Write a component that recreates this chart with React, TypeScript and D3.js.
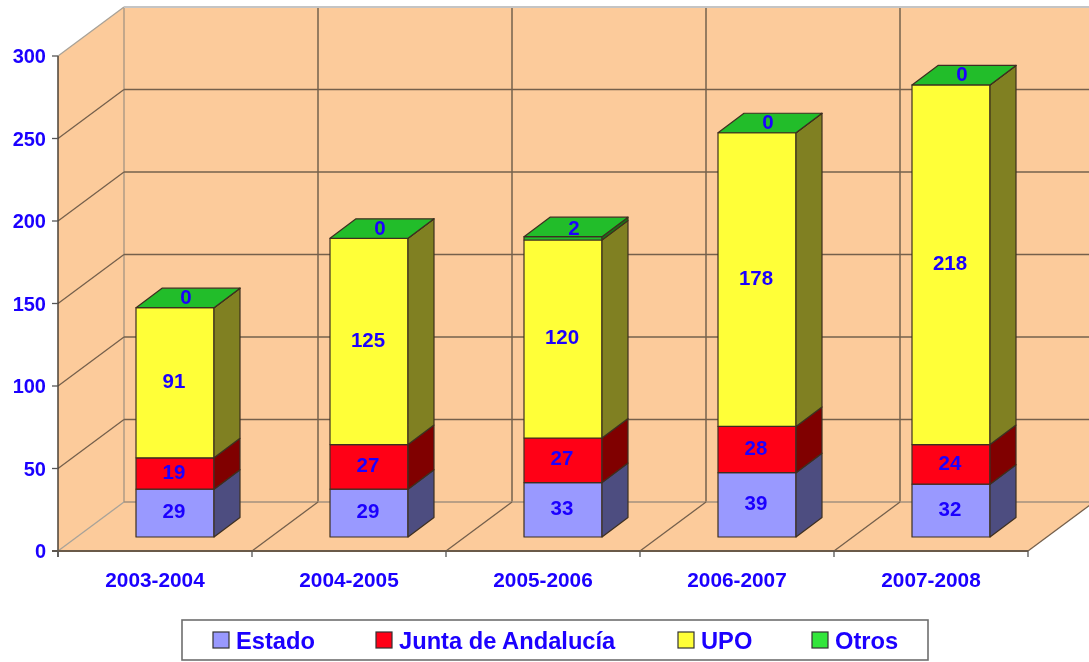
import React from "react";
import * as d3 from "d3";

const categories = ["2003-2004", "2004-2005", "2005-2006", "2006-2007", "2007-2008"];
const estado = [29, 29, 33, 39, 32];
const junta = [19, 27, 27, 28, 24];
const upo = [91, 125, 120, 178, 218];
const otros = [0, 0, 2, 0, 0];
const yTicks = [0, 50, 100, 150, 200, 250, 300];
const seriesNames = ["Estado", "Junta de Andalucía", "UPO", "Otros"];
const seriesValues = [estado, junta, upo, otros];
const seriesFill = ["#9999ff", "#ff0019", "#ffff38", "#24bd2a"];
const seriesSide = ["#4d4d80", "#800000", "#808020", "#157a18"];
const legendFill = ["#9999ff", "#ff0019", "#ffff38", "#33e63a"];
const legendX = [213, 376, 678, 812];

const BLUE = "#1a00ff";
const FONT = "'Liberation Sans', Arial, sans-serif";
const DX = 66, DY = -49; // chart depth
const BDX = 26, BDY = -19.5; // bar depth
const x = d3.scaleBand().domain(categories).range([58, 1028]);
const y = d3.scaleLinear().domain([0, 300]).range([551, 56]);
const yBar = d3.scaleLinear().domain([0, 300]).range([537, 42]);
const BAR_W = 78, BAR_OFF = 78;
const line = d3.line();
const poly = (pts: [number, number][]) => line(pts) + "Z";
const GRID = "#75604c";

export default function App() {
  const gridEdges = [...categories.map((c) => x(c)!), 1028];
  return (
    <svg width={1089} height={662} viewBox="0 0 1089 662"
      style={{ position: "absolute", left: 0, top: 0, background: "#fff", fontFamily: FONT }}>
      <defs>
        <filter id="soft" x="-2%" y="-2%" width="104%" height="104%">
          <feGaussianBlur stdDeviation="0.7" />
        </filter>
      </defs>
      <g filter="url(#soft)">
        {/* walls */}
        <rect x={58 + DX} y={y(300) + DY} width={1089 - 58 - DX} height={y(0) - y(300)} fill="#fccb9b" />
        <path d={poly([[58, y(300)], [58 + DX, y(300) + DY], [58 + DX, y(0) + DY], [58, y(0)]])} fill="#fccb9b" />
        <path d={poly([[58, y(0)], [58 + DX, y(0) + DY], [1094, y(0) + DY], [1028, y(0)]])} fill="#fccb9b" />

        {/* back wall vertical grid */}
        {gridEdges.map((g, i) => (
          <line key={i} x1={g + DX} x2={g + DX} y1={y(300) + DY} y2={y(0) + DY}
            stroke={i === 0 ? "#9c8f80" : GRID} strokeWidth={i === 0 ? 1.2 : 1.5} />
        ))}
        {/* horizontal grid + side wall */}
        {yTicks.map((t) => {
          const muted = t === 0 || t === 300;
          return (
            <g key={t}>
              <line x1={58} x2={58 + DX} y1={y(t)} y2={y(t) + DY}
                stroke={muted ? "#a8a298" : GRID} strokeWidth={1.3} />
              <line x1={58 + DX} x2={1089} y1={y(t) + DY} y2={y(t) + DY}
                stroke={t === 300 ? "#c4c4c4" : t === 0 ? "#a3917e" : GRID} strokeWidth={t === 300 ? 2 : 1.4} />
            </g>
          );
        })}
        {/* floor lines */}
        {gridEdges.slice(1).map((g, i) => (
          <line key={i} x1={g} x2={g + DX} y1={y(0)} y2={y(0) + DY} stroke={GRID} strokeWidth={1.3} />
        ))}

        {/* axes */}
        <line x1={58} x2={58} y1={y(300)} y2={y(0) + 6} stroke="#4a4036" strokeWidth={1.5} />
        <line x1={52} x2={1028} y1={y(0)} y2={y(0)} stroke="#6b5a48" strokeWidth={1.8} />
        {yTicks.map((t) => (
          <line key={t} x1={52} x2={58} y1={y(t)} y2={y(t)} stroke="#555" strokeWidth={1.3} />
        ))}
        {gridEdges.map((g, i) => (
          <line key={i} x1={g} x2={g} y1={y(0)} y2={y(0) + 6} stroke="#555" strokeWidth={1.3} />
        ))}

        {/* bars */}
        {categories.map((c, ci) => {
          const left = x(c)! + BAR_OFF;
          const right = left + BAR_W;
          let acc = 0;
          return (
            <g key={c} stroke="#3d2f20" strokeWidth={1.2} strokeLinejoin="round">
              {seriesValues.map((vals, si) => {
                const v0 = acc;
                const v1 = (acc += vals[ci]);
                const y0 = yBar(v0), y1 = yBar(v1);
                return (
                  <g key={si}>
                    <rect x={left} y={y1} width={BAR_W} height={y0 - y1} fill={seriesFill[si]} />
                    <path d={poly([[right, y0], [right + BDX, y0 + BDY], [right + BDX, y1 + BDY], [right, y1]])}
                      fill={seriesSide[si]} />
                    {si === seriesValues.length - 1 && (
                      <path d={poly([[left, y1], [left + BDX, y1 + BDY], [right + BDX, y1 + BDY], [right, y1]])}
                        fill={seriesFill[si]} />
                    )}
                  </g>
                );
              })}
            </g>
          );
        })}

        {/* value labels */}
        {categories.map((c, ci) => {
          const cx = x(c)! + BAR_OFF + BAR_W / 2;
          let acc = 0;
          return seriesValues.map((vals, si) => {
            const v0 = acc;
            const v1 = (acc += vals[ci]);
            const last = si === seriesValues.length - 1;
            return (
              <text key={c + si} x={last ? cx + 11 : cx - 1}
                y={(yBar(v0) + yBar(v1)) / 2 + (last ? -11 : -2)} dy="0.35em" textAnchor="middle"
                fontSize={20.5} fontWeight={700} fill={BLUE}>{vals[ci]}</text>
            );
          });
        })}

        {/* tick labels */}
        {yTicks.map((t) => (
          <text key={t} x={46} y={y(t)} dy="0.35em" textAnchor="end" fontSize={20} fontWeight={700} fill={BLUE}>{t}</text>
        ))}
        {categories.map((c) => (
          <text key={c} x={x(c)! + x.bandwidth() / 2} y={580} dy="0.35em" textAnchor="middle"
            fontSize={20.8} fontWeight={700} fill={BLUE}>{c}</text>
        ))}

        {/* legend */}
        <rect x={182} y={620} width={746} height={40} fill="#fff" stroke="#6e6e6e" strokeWidth={1.6} />
        {seriesNames.map((n, i) => (
          <g key={n}>
            <rect x={legendX[i]} y={632} width={16} height={16} fill={legendFill[i]} stroke="#333" strokeWidth={1.2} />
            <text x={legendX[i] + 23} y={640} dy="0.36em" fontSize={23.7} fontWeight={700} fill={BLUE}>{n}</text>
          </g>
        ))}
      </g>
    </svg>
  );
}
